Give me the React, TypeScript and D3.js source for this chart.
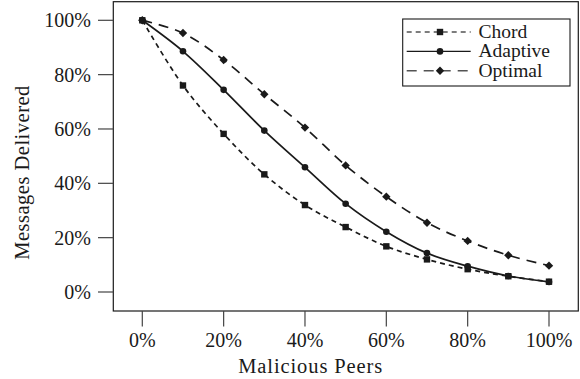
import * as d3 from 'd3'

const PEERS = [0, 10, 20, 30, 40, 50, 60, 70, 80, 90, 100]
const CHORD = [100, 76, 58.2, 43.3, 32, 23.9, 16.8, 12, 8.4, 5.8, 3.8]
const ADAPTIVE = [100, 88.6, 74.4, 59.4, 45.9, 32.5, 22.2, 14.3, 9.5, 5.9, 3.7]
const OPTIMAL = [100, 95.3, 85.4, 72.8, 60.5, 46.6, 35.1, 25.5, 18.8, 13.5, 9.7]
const TICKS = [0, 20, 40, 60, 80, 100]

const W = 580
const H = 379
const FAMILY = "'Liberation Serif', 'Times New Roman', Times, Tinos, monospace"
const INK = '#1a1a1a'

type Marker = 'square' | 'circle' | 'diamond'

const SERIES: { name: string; values: number[]; dash: string | null; marker: Marker }[] = [
  { name: 'Chord', values: CHORD, dash: '5,4', marker: 'square' },
  { name: 'Adaptive', values: ADAPTIVE, dash: null, marker: 'circle' },
  { name: 'Optimal', values: OPTIMAL, dash: '10,7', marker: 'diamond' },
]

function MarkerShape({ kind, x, y }: { kind: Marker; x: number; y: number }) {
  if (kind === 'square') return <rect x={x - 3.2} y={y - 3.2} width={6.4} height={6.4} fill={INK} />
  if (kind === 'circle') return <circle cx={x} cy={y} r={3.3} fill={INK} />
  const s = 4.2
  return <path d={`M${x},${y - s}L${x + s},${y}L${x},${y + s}L${x - s},${y}Z`} fill={INK} />
}

export default function App() {
  const frame = { left: 113.3, top: 1.7, right: 578.3, bottom: 311 }
  const x = d3.scaleLinear().domain([0, 100]).range([142.3, 549])
  const y = d3.scaleLinear().domain([0, 100]).range([292, 20.3])

  const line = d3
    .line<number>()
    .x((_, i) => x(PEERS[i]))
    .y((d) => y(d))
    .curve(d3.curveCatmullRom.alpha(0.5))

  const legend = { x: 402.7, y: 19, w: 167.3, h: 67, row0: 32, rowGap: 19.4 }
  const txt = { fontFamily: FAMILY }

  return (
    <svg width={W} height={H} style={{ position: 'absolute', left: 0, top: 0, background: '#fff' }}>
      <style>{`text { font-family: ${FAMILY}; }`}</style>
      <rect x={0} y={0} width={W} height={H} fill="#fff" />

      {/* frame */}
      <rect
        x={frame.left}
        y={frame.top}
        width={frame.right - frame.left}
        height={frame.bottom - frame.top}
        fill="none"
        stroke={INK}
        strokeWidth={1.2}
      />

      {/* y axis ticks */}
      {TICKS.map((t) => (
        <g key={'y' + t}>
          <line x1={98} x2={frame.left} y1={y(t)} y2={y(t)} stroke="#444" strokeWidth={1.2} />
          <text x={91} y={y(t) + 7} textAnchor="end" fontSize={20} fill={INK} style={txt}>
            {t}%
          </text>
        </g>
      ))}

      {/* x axis ticks */}
      {TICKS.map((t) => (
        <g key={'x' + t}>
          <line x1={x(t)} x2={x(t)} y1={frame.bottom} y2={326.5} stroke="#444" strokeWidth={1.2} />
          <text x={x(t)} y={347} textAnchor="middle" fontSize={20} fill={INK} style={txt}>
            {t}%
          </text>
        </g>
      ))}

      <text x={310.7} y={373} textAnchor="middle" fontSize={20.5} letterSpacing={0.9} fill={INK} style={txt}>
        Malicious Peers
      </text>
      <text
        transform="translate(29,172.5) rotate(-90)"
        textAnchor="middle"
        fontSize={20.5}
        letterSpacing={0.5}
        fill={INK}
        style={txt}
      >
        Messages Delivered
      </text>

      {/* series */}
      {SERIES.map((s) => (
        <g key={s.name}>
          <path
            d={line(s.values) || ''}
            fill="none"
            stroke={INK}
            strokeWidth={1.7}
            strokeDasharray={s.dash || undefined}
          />
          {s.values.map((v, i) => (
            <MarkerShape key={i} kind={s.marker} x={x(PEERS[i])} y={y(v)} />
          ))}
        </g>
      ))}

      {/* legend */}
      <rect
        x={legend.x}
        y={legend.y}
        width={legend.w}
        height={legend.h}
        fill="#fff"
        stroke={INK}
        strokeWidth={1.1}
      />
      {SERIES.map((s, i) => {
        const cy = legend.row0 + i * legend.rowGap
        return (
          <g key={'lg' + s.name}>
            <line
              x1={406.7}
              x2={470.7}
              y1={cy}
              y2={cy}
              stroke={INK}
              strokeWidth={1.4}
              strokeDasharray={s.dash || undefined}
              opacity={s.dash ? 0.75 : 1}
            />
            <MarkerShape kind={s.marker} x={440} y={cy} />
            <text x={478.5} y={cy + 6} fontSize={19.5} fill={INK} style={txt}>
              {s.name}
            </text>
          </g>
        )
      })}
    </svg>
  )
}
